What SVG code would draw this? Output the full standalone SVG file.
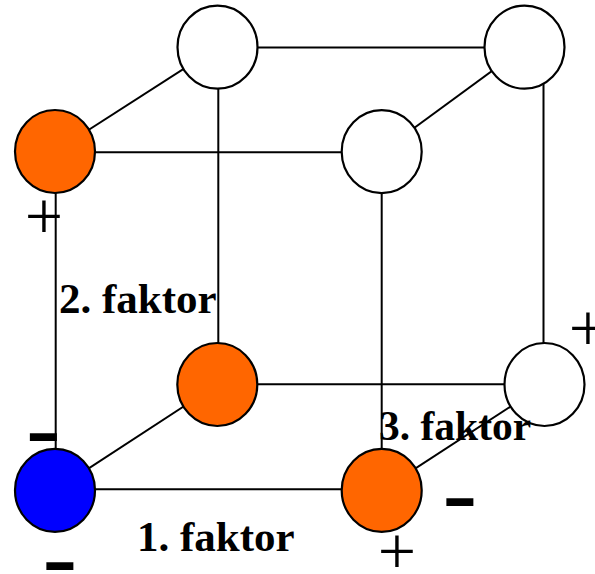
<svg xmlns="http://www.w3.org/2000/svg" width="595" height="574" viewBox="0 0 595 574">
<style>
.edge{stroke:#000;stroke-width:2;fill:none}
.node{stroke:#000;stroke-width:2.2}
.w{fill:#fff}
.o{fill:#FF6600}
.b{fill:#0000FF}
.lbl{font-family:"Liberation Serif","Times New Roman",serif;font-weight:bold;font-size:43px;fill:#000}
.plus{font-family:"Liberation Serif","Times New Roman",serif;font-size:68px;fill:#000;text-anchor:middle}
.minus{font-family:"Liberation Serif","Times New Roman",serif;font-size:104px;fill:#000}
</style>
<rect width="595" height="574" fill="#fff"/>
<g id="connectors">
<line class="edge" x1="217.5" y1="47.5" x2="524.5" y2="47.5"/>
<line class="edge" x1="55" y1="152.3" x2="381.7" y2="152.3"/>
<line class="edge" x1="217.3" y1="384.3" x2="544.5" y2="384.3"/>
<line class="edge" x1="55" y1="489.3" x2="381.7" y2="489.3"/>
<line class="edge" x1="217.5" y1="47.2" x2="55" y2="151.5"/>
<line class="edge" x1="524.5" y1="47.2" x2="381.7" y2="151.7"/>
<line class="edge" x1="217.3" y1="384.5" x2="55" y2="490.3"/>
<line class="edge" x1="544.5" y1="384.5" x2="381.7" y2="490.3"/>
<line class="edge" x1="218.3" y1="47.2" x2="218.3" y2="384.5"/>
<line class="edge" x1="55.7" y1="151.5" x2="55.7" y2="490.3"/>
<line class="edge" x1="381.7" y1="151.7" x2="381.7" y2="490.3"/>
<line class="edge" x1="543.5" y1="47.2" x2="543.5" y2="384.5"/>
</g>
<g id="n-top-left-back"><ellipse class="node w" cx="217.5" cy="47.2" rx="40" ry="41.5"/></g>
<g id="n-top-right-back"><ellipse class="node w" cx="524.5" cy="47.2" rx="40" ry="41.5"/></g>
<g id="n-top-left-front"><ellipse class="node o" cx="55" cy="151.5" rx="40" ry="41.5"/></g>
<g id="n-top-right-front"><ellipse class="node w" cx="381.7" cy="151.7" rx="40" ry="41.5"/></g>
<g id="n-bottom-left-back"><ellipse class="node o" cx="217.3" cy="384.5" rx="40" ry="41.5"/></g>
<g id="n-bottom-right-back"><ellipse class="node w" cx="544.5" cy="384.5" rx="40" ry="41.5"/></g>
<g id="n-bottom-left-front"><ellipse class="node b" cx="55" cy="490.3" rx="40" ry="41.5"/></g>
<g id="n-bottom-right-front"><ellipse class="node o" cx="381.7" cy="490.3" rx="40" ry="41.5"/></g>
<g id="labels">
<text class="lbl" x="59" y="313">2. faktor</text>
<text class="lbl" x="137" y="551">1. faktor</text>
<text class="lbl" x="379" y="440" style="font-size:41.5px">3. faktor</text>
<text class="plus" x="44" y="239">+</text>
<text class="plus" x="588" y="351">+</text>
<text class="plus" x="397" y="574">+</text>
<text class="minus" x="26" y="462">-</text>
<text class="minus" x="42.5" y="591">-</text>
<text class="minus" x="442.5" y="527">-</text>
</g>
</svg>
